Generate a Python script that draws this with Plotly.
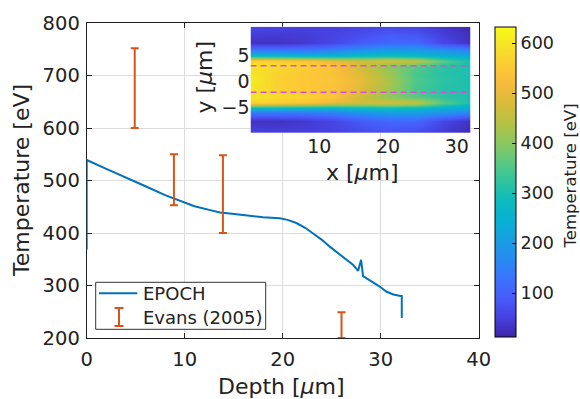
import plotly.graph_objects as go

# ---------------- data ----------------
depth = [0, 0, 2, 4, 6, 8, 9.5, 11, 12.5, 13.6, 14.6, 15.5, 16.7, 18, 19.7, 20.5,
         21.4, 22.3, 23.1, 24.0, 24.8, 25.7, 26.5, 27.2, 27.7, 28.0, 28.2, 29.0,
         29.9, 30.6, 31.3, 32.0, 32.15, 32.15]
temp_epoch = [368, 539, 522, 506, 489, 472, 461, 451, 444, 439, 437, 435, 432, 430,
              428, 425, 419, 410, 399, 387, 374, 361, 349, 339, 328, 349, 318, 309,
              298, 288, 283, 280, 280, 238]

evans_x = [4.9, 8.9, 13.9, 26.0]
evans_low = [600, 453, 400, 200]
evans_high = [752, 550, 548, 249]

# inset temperature map
map_x = [0, 4, 8, 12, 16, 20, 24, 28, 32]
map_y = [-10.5, -7.5, -6, -5.0, -4.0, -3, -1.5, 0, 1.5, 3, 4.0, 5.0, 6, 7.5, 10.5]
map_z = [
    [60, 55, 50, 50, 55, 65, 55, 35, 20],
    [30, 30, 40, 60, 90, 110, 110, 60, 30],
    [130, 130, 130, 150, 180, 200, 200, 180, 150],
    [280, 270, 260, 260, 280, 290, 280, 250, 230],
    [570, 560, 540, 500, 470, 480, 460, 360, 300],
    [600, 580, 570, 540, 470, 400, 360, 320, 300],
    [600, 565, 550, 535, 490, 420, 345, 315, 300],
    [610, 565, 550, 540, 500, 430, 350, 320, 300],
    [600, 565, 550, 535, 490, 420, 345, 315, 300],
    [600, 580, 570, 540, 470, 400, 360, 320, 300],
    [570, 560, 540, 500, 470, 480, 460, 360, 300],
    [280, 270, 260, 260, 280, 290, 280, 250, 230],
    [130, 130, 130, 150, 180, 200, 200, 180, 150],
    [30, 30, 40, 60, 90, 110, 110, 60, 30],
    [60, 55, 50, 50, 55, 65, 55, 35, 20],
]
dashed_y = [3.0, -2.1]
map_zmin, map_zmax = 12, 632

# ---------------- styling ----------------
W, H = 580, 399
FONT = "DejaVu Sans"
BLUE = "#0072BD"
ORANGE = "#D95319"
GRID = "#DCDCDC"

def px(x):
    return x / W

def py(y):
    return 1 - y / H

parula_rgb = [
    (0.0, (0.2422, 0.1504, 0.6603)), (0.0625, (0.2750, 0.2560, 0.8800)),
    (0.125, (0.2780, 0.3556, 0.9777)), (0.1875, (0.2300, 0.4500, 0.9950)),
    (0.25, (0.1540, 0.5400, 0.9500)), (0.3125, (0.1000, 0.6200, 0.8900)),
    (0.375, (0.0300, 0.6900, 0.8300)), (0.4375, (0.0500, 0.7350, 0.7400)),
    (0.5, (0.1800, 0.7650, 0.6300)), (0.5625, (0.3560, 0.7880, 0.5100)),
    (0.625, (0.5440, 0.7850, 0.3760)), (0.6875, (0.7050, 0.7600, 0.2700)),
    (0.75, (0.8380, 0.7370, 0.2230)), (0.8125, (0.9580, 0.7350, 0.2400)),
    (0.875, (0.9920, 0.7920, 0.2060)), (0.9375, (0.9620, 0.8870, 0.1580)),
    (1.0, (0.9769, 0.9839, 0.0805)),
]
parula = [[s, "rgb(%d,%d,%d)" % tuple(round(255 * c) for c in rgb)] for s, rgb in parula_rgb]

fig = go.Figure()

fig.add_trace(go.Scatter(x=depth, y=temp_epoch, mode="lines",
                         line=dict(color=BLUE, width=2), showlegend=False,
                         xaxis="x", yaxis="y"))

center = [(a + b) / 2 for a, b in zip(evans_low, evans_high)]
err = [(b - a) / 2 for a, b in zip(evans_low, evans_high)]
fig.add_trace(go.Scatter(x=evans_x, y=center, mode="markers",
                         marker=dict(size=1, color="rgba(0,0,0,0)"),
                         error_y=dict(type="data", array=err, symmetric=True,
                                      color=ORANGE, thickness=2, width=4),
                         showlegend=False, xaxis="x", yaxis="y"))

fig.add_trace(go.Heatmap(x=map_x, y=map_y, z=map_z, zsmooth="best",
                         colorscale=parula, zmin=map_zmin, zmax=map_zmax,
                         xaxis="x2", yaxis="y2",
                         colorbar=dict(x=px(495), xanchor="left", xpad=0, ypad=0,
                                       y=py(182), yanchor="middle",
                                       lenmode="pixels", len=310, thickness=21,
                                       outlinecolor="black", outlinewidth=1,
                                       tickvals=[100, 200, 300, 400, 500, 600],
                                       ticks="inside", ticklen=4, tickcolor="black",
                                       tickfont=dict(family=FONT, size=17.5, color="#222"))))

for yv in dashed_y:
    fig.add_trace(go.Scatter(x=[0, 32], y=[yv, yv], mode="lines",
                             line=dict(color="#D94FD6", width=1.5, dash="6px,4px"),
                             showlegend=False, xaxis="x2", yaxis="y2"))

shapes = [
    # white patch behind inset y label
    dict(type="rect", xref="paper", yref="paper", x0=px(191), x1=px(250),
         y0=py(122), y1=py(24), fillcolor="white", line=dict(width=0), layer="between"),
    # legend box
    dict(type="rect", xref="paper", yref="paper", x0=px(95.7), x1=px(265.7),
         y0=py(329.3), y1=py(282.3), fillcolor="white",
         line=dict(color="#333", width=1), layer="above"),
    dict(type="line", xref="paper", yref="paper", x0=px(99), x1=px(137.3),
         y0=py(293.3), y1=py(293.3), line=dict(color=BLUE, width=2), layer="above"),
    dict(type="line", xref="paper", yref="paper", x0=px(119), x1=px(119),
         y0=py(308), y1=py(326), line=dict(color=ORANGE, width=2), layer="above"),
    dict(type="line", xref="paper", yref="paper", x0=px(114.5), x1=px(123.5),
         y0=py(308), y1=py(308), line=dict(color=ORANGE, width=2), layer="above"),
    dict(type="line", xref="paper", yref="paper", x0=px(114.5), x1=px(123.5),
         y0=py(326), y1=py(326), line=dict(color=ORANGE, width=2), layer="above"),
]

def ann(text, x, y, size, angle=0, xanchor="center"):
    return dict(text=text, x=px(x), y=py(y), xref="paper", yref="paper",
                showarrow=False, textangle=angle, xanchor=xanchor, yanchor="middle",
                font=dict(family=FONT, size=size, color="#222"))

annotations = [
    ann("Temperature [eV]", 22, 181, 22, -90),
    ann("Depth [<i>μ</i>m]", 281.5, 386, 22),
    ann("y [<i>μ</i>m]", 204, 77.5, 22, -90),
    ann("x [<i>μ</i>m]", 362.5, 172, 22),
    ann("Temperature [eV]", 569.5, 176, 16.5, -90),
    ann("EPOCH", 140.7, 293.3, 18, xanchor="left"),
    ann("Evans (2005)", 140.7, 317, 18, xanchor="left"),
]

axis_common = dict(showline=True, linecolor="#222", linewidth=1, mirror="ticks",
                   ticks="inside", ticklen=5, tickcolor="#222",
                   showgrid=True, gridcolor=GRID, gridwidth=1, zeroline=False,
                   tickfont=dict(family=FONT, size=19.5, color="#222"),
                   layer="below traces", automargin=False)

fig.update_layout(
    width=W, height=H, autosize=False,
    margin=dict(l=0, r=0, t=0, b=0, autoexpand=False),
    paper_bgcolor="white", plot_bgcolor="white",
    showlegend=False,
    xaxis=dict(domain=[px(86.7), px(478.7)], range=[0, 40], dtick=10,
               anchor="y", ticklabelstandoff=4, **axis_common),
    yaxis=dict(domain=[py(338), py(23)], range=[200, 800], dtick=100,
               anchor="x", ticklabelstandoff=2, **axis_common),
    xaxis2=dict(domain=[px(250.5), px(470.5)], range=[0, 32], anchor="y2",
                tickvals=[10, 20, 30], showgrid=False, zeroline=False,
                showline=False, ticks="", automargin=False,
                tickfont=dict(family=FONT, size=19, color="#222")),
    yaxis2=dict(domain=[py(133), py(26.7)], range=[-9.9, 10.5], anchor="x2",
                tickvals=[-5, 0, 5], showgrid=False, zeroline=False,
                showline=False, ticks="", automargin=False,
                tickfont=dict(family=FONT, size=19, color="#222")),
    shapes=shapes,
    annotations=annotations,
)

fig.write_html("out.html")
